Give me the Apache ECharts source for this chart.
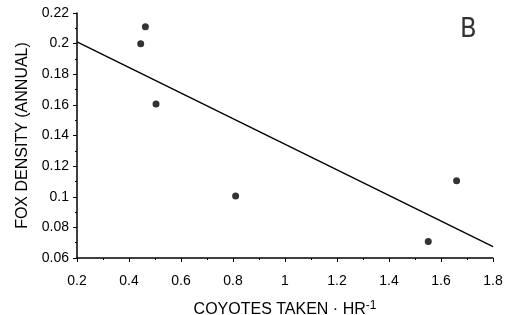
<!DOCTYPE html>
<html>
<head>
<meta charset="utf-8">
<script src="https://cdn.jsdelivr.net/npm/echarts@6/dist/echarts.min.js"></script>
<style>
  html, body { margin: 0; padding: 0; background: #fff; }
  #chart { width: 513px; height: 315px; }
</style>
</head>
<body>
<div id="chart"></div>
<script>
// coyotes taken per hour vs fox density
const coyotesTaken = [0.445, 0.463, 0.504, 0.81, 1.551, 1.66]
const foxDensity = [0.2, 0.211, 0.1606, 0.1005, 0.0707, 0.1105]
// regression line end points
const fitX = [0.2, 1.8]
const fitY = [0.2012, 0.0674]

const chart = echarts.init(document.getElementById('chart'))

const font = 'Liberation Sans, Arial, sans-serif'

const option = {
  animation: false,
  backgroundColor: '#fff',
  grid: { left: 77, right: 20, top: 13, bottom: 57, outerBoundsMode: 'none' },
  xAxis: {
    type: 'value',
    min: 0.2,
    max: 1.8,
    interval: 0.2,
    name: '{a|COYOTES TAKEN · HR}{s|-1}',
    nameLocation: 'middle',
    nameGap: 42,
    nameTextStyle: {
      rich: {
        a: { fontFamily: font, fontSize: 16, color: '#000' },
        s: { fontFamily: font, fontSize: 12, color: '#000', verticalAlign: 'top', padding: [0, 0, 7, 0] }
      }
    },
    axisLine: { show: true, lineStyle: { color: '#000', width: 1.5 } },
    axisTick: { show: true, inside: false, length: 4, lineStyle: { color: '#000' } },
    minorTick: { show: true, splitNumber: 2, length: 2, lineStyle: { color: '#000' } },
    splitLine: { show: false },
    axisLabel: { fontFamily: font, fontSize: 14, color: '#000', margin: 16 }
  },
  yAxis: {
    type: 'value',
    min: 0.06,
    max: 0.22,
    interval: 0.02,
    name: 'FOX DENSITY (ANNUAL)',
    nameLocation: 'middle',
    nameGap: 45,
    nameTextStyle: { fontFamily: font, fontSize: 16, color: '#000' },
    axisLine: { show: true, lineStyle: { color: '#000', width: 1.5 } },
    axisTick: { show: true, inside: false, length: 4, lineStyle: { color: '#000' } },
    minorTick: { show: true, splitNumber: 2, length: 2, lineStyle: { color: '#000' } },
    splitLine: { show: false },
    axisLabel: { fontFamily: font, fontSize: 14, color: '#000', margin: 8 }
  },
  graphic: [
    {
      type: 'text',
      left: 460,
      top: 16,
      style: { text: 'B', fontFamily: '"Liberation Sans Narrow", "DejaVu Sans Condensed", sans-serif', fontSize: 27, fill: '#333' }
    }
  ],
  series: [
    {
      type: 'line',
      data: fitX.map((x, i) => [x, fitY[i]]),
      symbol: 'none',
      lineStyle: { color: '#000', width: 1.4 },
      silent: true
    },
    {
      type: 'scatter',
      data: coyotesTaken.map((x, i) => [x, foxDensity[i]]),
      symbol: 'circle',
      symbolSize: 7,
      itemStyle: { color: '#000' }
    }
  ]
}

chart.setOption(option)
</script>
</body>
</html>
